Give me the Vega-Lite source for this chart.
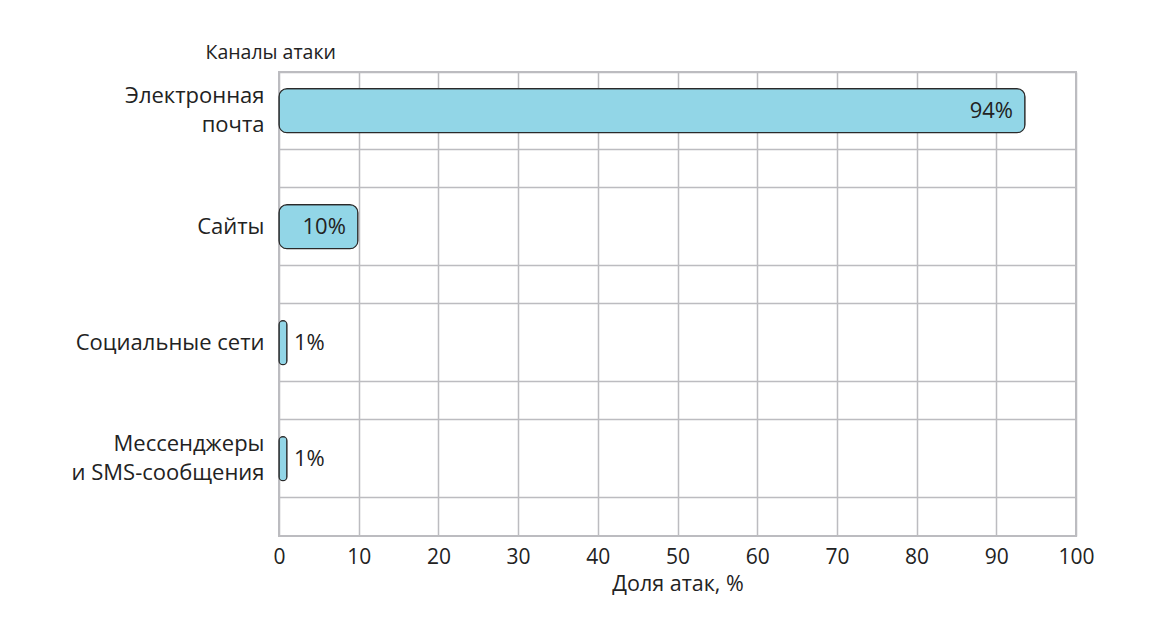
{
  "$schema": "https://vega.github.io/schema/vega-lite/v6.json",
  "autosize": {"type": "none"},
  "width": 797,
  "height": 464,
  "padding": {"left": 279, "top": 72, "right": 74, "bottom": 85},
  "background": "white",
  "config": {
    "font": "Open Sans",
    "view": {"stroke": "#bcbcc0", "strokeWidth": 2},
    "axis": {"labelColor": "#222222", "titleColor": "#222222", "labelFont": "Open Sans", "titleFont": "Open Sans", "gridColor": "#bcbcc0", "gridWidth": 1.5, "gridOpacity": 1}
  },
  "data": {
    "values": [
      {"channel": "Электронная почта", "value": 93.6, "label": "94%"},
      {"channel": "Сайты", "value": 9.9, "label": "10%"},
      {"channel": "Социальные сети", "value": 1, "label": "1%"},
      {"channel": "Мессенджеры и SMS-сообщения", "value": 1, "label": "1%"}
    ]
  },
  "encoding": {
    "y": {
      "field": "channel", "type": "nominal", "sort": null,
      "scale": {"paddingInner": 0.33333, "paddingOuter": 0.16667, "align": 0, "round": false}
    }
  },
  "layer": [
    {
      "mark": {"type": "bar", "size": 44, "cornerRadius": 8, "fill": "#92d6e7", "stroke": "#2a2a2a", "strokeWidth": 1.2},
      "encoding": {
        "x": {
          "field": "value", "type": "quantitative",
          "scale": {"domain": [0, 100], "nice": false},
          "axis": {
            "values": [0, 10, 20, 30, 40, 50, 60, 70, 80, 90, 100],
            "grid": true, "ticks": false, "domain": false, "labelFlush": false,
            "labelFontSize": 21, "labelPadding": 10,
            "title": "Доля атак, %", "titleFontSize": 21.5, "titleFontWeight": "normal", "titlePadding": 6
          }
        },
        "y": {
          "field": "channel", "type": "nominal", "sort": null,
          "axis": {
            "bandPosition": 0, "grid": true, "ticks": false, "domain": false,
            "labelFontSize": 22, "labelPadding": 15, "labelLineHeight": 29,
            "labelBaseline": "middle", "labelLimit": 300,
            "labelOffset": {"condition": {"test": "datum.value == 'Электронная почта' || datum.value == 'Мессенджеры и SMS-сообщения'", "value": -14.5}, "value": 0},
            "labelExpr": "datum.value == 'Электронная почта' ? ['Электронная', 'почта'] : datum.value == 'Мессенджеры и SMS-сообщения' ? ['Мессенджеры', 'и SMS-сообщения'] : datum.value",
            "title": "Каналы атаки", "titleAngle": 0, "titleAlign": "left", "titleBaseline": "alphabetic",
            "titleX": -74, "titleY": -14, "titleFontSize": 19.5, "titleFontWeight": "normal"
          }
        }
      }
    },
    {
      "transform": [{"filter": "datum.value >= 5"}],
      "mark": {"type": "text", "align": "right", "baseline": "middle", "dx": -12, "fontSize": 22, "color": "#222222"},
      "encoding": {
        "x": {"field": "value", "type": "quantitative"},
        "y": {
          "field": "channel", "type": "nominal", "sort": null,
          "axis": {"orient": "right", "bandPosition": 1, "grid": true, "ticks": false, "domain": false, "labels": false, "title": null}
        },
        "text": {"field": "label"}
      }
    },
    {
      "transform": [{"filter": "datum.value < 5"}],
      "mark": {"type": "text", "align": "left", "baseline": "middle", "dx": 7, "fontSize": 22, "color": "#222222"},
      "encoding": {
        "x": {"field": "value", "type": "quantitative"},
        "y": {"field": "channel", "type": "nominal", "sort": null, "axis": null},
        "text": {"field": "label"}
      }
    }
  ],
  "resolve": {"axis": {"y": "independent"}}
}
